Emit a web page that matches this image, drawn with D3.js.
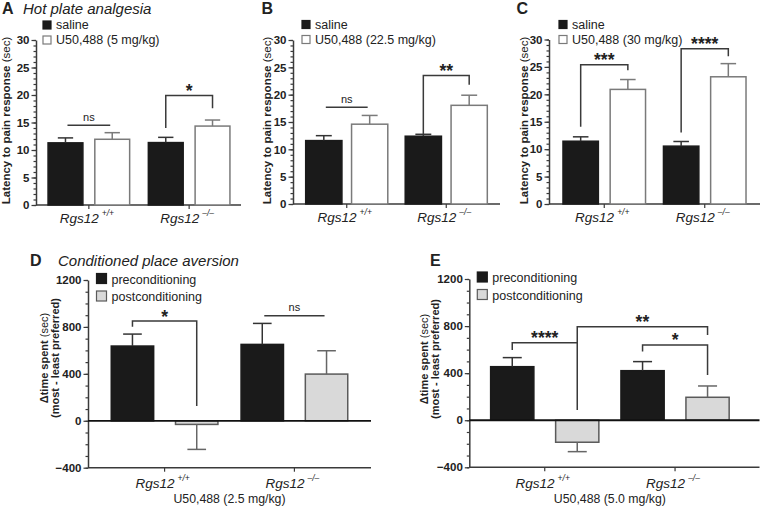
<!DOCTYPE html>
<html><head><meta charset="utf-8">
<script src="https://cdn.jsdelivr.net/npm/d3@7"></script>
<style>
body{margin:0;background:#fff}
svg{font-family:"Liberation Sans",Arial,Helvetica,sans-serif}
.tk text{font-weight:bold;font-size:11.5px;font-family:"Liberation Sans",Arial,Helvetica,sans-serif;fill:#222}
</style></head><body>
<svg id="c" width="760" height="506"></svg>
<script>
// ---------------- data ----------------
const genotypes = ["+/+", "\u2013/\u2013"];
const hpSeries = ["saline", "U50,488"];
const hpDoses = ["5 mg/kg", "22.5 mg/kg", "30 mg/kg"];
const hpTicks = [0, 5, 10, 15, 20, 25, 30];
const cpaSeries = ["preconditioning", "postconditioning"];
const cpaDoses = ["2.5 mg/kg", "5.0 mg/kg"];
const cpaTicks = [-400, 0, 400, 800, 1200];

// Hot plate (sec): mean and SEM per genotype [+/+, -/-]
const hpA_saline = [11.3, 11.35], hpA_salineSem = [0.9, 0.95];
const hpA_u50 = [11.95, 14.35], hpA_u50Sem = [1.2, 1.1];
const hpB_saline = [11.6, 12.4], hpB_salineSem = [0.9, 0.35];
const hpB_u50 = [14.6, 18.05], hpB_u50Sem = [1.6, 1.85];
const hpC_saline = [11.45, 10.55], hpC_salineSem = [0.8, 0.85];
const hpC_u50 = [20.9, 23.2], hpC_u50Sem = [1.8, 2.4];

// Conditioned place aversion (sec): mean and SEM per genotype
const cpaD_pre = [637, 651], cpaD_preSem = [102, 179];
const cpaD_post = [-31, 398], cpaD_postSem = [213, 199];
const cpaE_pre = [455, 421], cpaE_preSem = [77, 77];
const cpaE_post = [-187, 195], cpaE_postSem = [80, 96];

// Significance annotations: [group, series] pairs, levels in data units
const sigA = [
  {kind: "line", a: [0, 0], b: [0, 1], top: 14.5, label: "ns"},
  {kind: "bracket", a: [1, 0], b: [1, 1], top: 19.9, aEnd: 14.0, bEnd: 17.6, label: "*"}
];
const sigB = [
  {kind: "line", a: [0, 0], b: [0, 1], top: 17.7, label: "ns"},
  {kind: "bracket", a: [1, 0], b: [1, 1], top: 23.5, aEnd: 12.8, bEnd: 21.8, label: "**"}
];
const sigC = [
  {kind: "bracket", a: [0, 0], b: [0, 1], top: 25.4, aEnd: 14.1, bEnd: 24.4, label: "***"},
  {kind: "bracket", a: [1, 0], b: [1, 1], top: 28.3, aEnd: 13.05, bEnd: 26.95, label: "****"}
];
const sigD = [
  {kind: "bracket", a: [0, 0], b: [0, 1], top: 850, aEnd: 802, bEnd: 125, label: "*"},
  {kind: "line", a: [1, 0], b: [1, 1], top: 895, label: "ns"}
];
const sigE = [
  {kind: "bracket", a: [0, 0], b: [0, 1], top: 659, aEnd: 597, bEnd: 87, label: "****"},
  {kind: "bracket", a: [0, 1], b: [1, 1], top: 795, aEnd: 659, bEnd: 725, label: "**"},
  {kind: "bracket", a: [1, 0], b: [1, 1], top: 640, aEnd: 583, bEnd: 385, label: "*"}
];

// ---------------- drawing ----------------
const svg = d3.select("#c");
const FONT = '"Liberation Sans",Arial,Helvetica,sans-serif';
const AX = "#3a3a3a", TXT = "#222";

function panel(p) {
  const g = svg.append("g");
  const y = d3.scaleLinear().domain(p.yDomain).range(p.yRange);
  const x0 = d3.scaleBand().domain(genotypes).range(p.band).paddingInner(0).paddingOuter(p.po0);
  const x1 = d3.scaleBand().domain([0, 1]).range([0, x0.bandwidth()]).paddingInner(p.pi1).paddingOuter(p.po1);
  const bw = x1.bandwidth();
  const cx = (gi, si) => x0(genotypes[gi]) + x1(si) + bw / 2;
  const base = p.yDomain[0];

  // y axis
  const ym = g.append("g").attr("transform", `translate(${p.axisL},0)`);
  ym.call(d3.axisLeft(y).tickValues(p.minor).tickSize(2.5).tickSizeOuter(0).tickFormat(""));
  ym.select(".domain").remove();
  const ya = g.append("g").attr("class", "tk").attr("transform", `translate(${p.axisL},0)`);
  ya.call(d3.axisLeft(y).tickValues(p.ticks).tickSize(4.5).tickSizeOuter(0).tickPadding(2).tickFormat(d3.format("d")));
  ya.attr("font-family", null).attr("font-size", null);
  g.selectAll("path.domain").attr("stroke", AX).attr("stroke-width", 1.5);
  g.selectAll(".tick line").attr("stroke", AX).attr("stroke-width", 1.2);

  // x axis ticks
  const xa = g.append("g").attr("transform", `translate(0,${y(base)})`);
  xa.call(d3.axisBottom(x0).tickSize(4).tickSizeOuter(0).tickFormat(""));
  xa.select(".domain").remove();
  xa.selectAll(".tick line").attr("stroke", AX).attr("stroke-width", 1.2);
  g.append("line").attr("x1", p.axisL).attr("x2", p.axisR)
    .attr("y1", y(base)).attr("y2", y(base)).attr("stroke", AX).attr("stroke-width", 1.5);

  // bars
  const vals = [p.s0, p.s1], sems = [p.e0, p.e1];
  for (let gi = 0; gi < 2; gi++) {
    for (let si = 0; si < 2; si++) {
      const v = vals[si][gi], e = sems[si][gi];
      const xl = x0(genotypes[gi]) + x1(si);
      g.append("rect").attr("x", xl).attr("width", bw)
        .attr("y", Math.min(y(v), y(0))).attr("height", Math.abs(y(v) - y(0)))
        .attr("fill", p.fill[si]).attr("stroke", p.stroke[si]).attr("stroke-width", 1.5);
      const end = v >= 0 ? v + e : v - e;
      const c = xl + bw / 2, cap = bw * 0.22;
      g.append("line").attr("x1", c).attr("x2", c).attr("y1", y(v)).attr("y2", y(end))
        .attr("stroke", p.err[si]).attr("stroke-width", 1.5);
      g.append("line").attr("x1", c - cap).attr("x2", c + cap).attr("y1", y(end)).attr("y2", y(end))
        .attr("stroke", p.err[si]).attr("stroke-width", 1.5);
    }
  }
  if (p.zeroLine) {
    g.append("line").attr("x1", p.axisL).attr("x2", p.axisR)
      .attr("y1", y(0)).attr("y2", y(0)).attr("stroke", "#111").attr("stroke-width", 1.8);
  }

  // x labels
  genotypes.forEach((gt, gi) => {
    const t = g.append("text").attr("x", x0(gt) + x0.bandwidth() / 2 - 2).attr("y", y(base) + p.xlabDy)
      .attr("text-anchor", "middle").attr("font-family", FONT).attr("fill", TXT);
    t.append("tspan").attr("font-style", "italic").attr("font-size", 13.5).text("Rgs12");
    t.append("tspan").attr("font-style", "italic").attr("font-size", 8.5).attr("dx", 3).attr("dy", -7).text(gt);
  });
  if (p.xTitle) {
    g.append("text").attr("x", (p.band[0] + p.band[1]) / 2).attr("y", y(base) + p.xTitleDy)
      .attr("text-anchor", "middle").attr("font-family", FONT).attr("font-size", 12.3)
      .attr("fill", TXT).text(p.xTitle);
  }

  // y label
  const yl = g.append("g").attr("transform", `translate(${p.ylab[0]},${p.ylab[1]}) rotate(-90)`);
  p.ylabLines.forEach((ln, i) => {
    const t = yl.append("text").attr("x", 0).attr("y", i * p.ylabGap).attr("text-anchor", "middle")
      .attr("font-family", FONT).attr("font-size", p.ylabSize).attr("fill", TXT);
    ln.forEach(([s, bold]) => t.append("tspan").attr("font-weight", bold ? "bold" : "normal").text(s));
  });

  // legend
  p.legend.forEach((lab, si) => {
    const ly = p.leg[1] + si * p.legGap;
    g.append("rect").attr("x", p.leg[0]).attr("y", ly).attr("width", p.legSq).attr("height", p.legSq)
      .attr("fill", p.fill[si]).attr("stroke", p.stroke[si]).attr("stroke-width", 1.2);
    g.append("text").attr("x", p.leg[0] + p.legSq + 5).attr("y", ly + p.legSq).attr("font-family", FONT)
      .attr("font-size", 12.5).attr("fill", TXT).text(lab);
  });

  // title
  const tt = g.append("text").attr("x", p.title[0]).attr("y", p.title[1]).attr("font-family", FONT).attr("fill", TXT);
  tt.append("tspan").attr("font-weight", "bold").attr("font-size", 16).text(p.letter);
  if (p.titleText) tt.append("tspan").attr("x", p.title[0] + p.titleGap).attr("font-style", "italic").attr("font-size", 15).text(p.titleText);

  // significance
  p.sig.forEach(s => {
    const xa_ = cx(s.a[0], s.a[1]), xb = cx(s.b[0], s.b[1]);
    if (s.kind === "line") {
      g.append("line").attr("x1", xa_ + 2).attr("x2", xb - 2).attr("y1", y(s.top)).attr("y2", y(s.top))
        .attr("stroke", AX).attr("stroke-width", 1.5);
      g.append("text").attr("x", (xa_ + xb) / 2).attr("y", y(s.top) - 4.5).attr("text-anchor", "middle")
        .attr("font-family", FONT).attr("font-size", 11).attr("fill", TXT).text(s.label);
    } else {
      g.append("path").attr("d", `M${xa_},${y(s.aEnd)}V${y(s.top)}H${xb}V${y(s.bEnd)}`)
        .attr("fill", "none").attr("stroke", AX).attr("stroke-width", 1.5);
      g.append("text").attr("x", (xa_ + xb) / 2).attr("y", y(s.top) + 1.5).attr("text-anchor", "middle")
        .attr("font-family", FONT).attr("font-size", 17.5).attr("font-weight", "bold").attr("fill", TXT).text(s.label);
    }
  });
}

const hpCommon = {
  yDomain: [0, 30], ticks: hpTicks, minor: d3.range(0, 31, 1),
  fill: ["#1a1a1a", "#ffffff"], stroke: ["#1a1a1a", "#7a7a7a"], err: ["#333", "#7a7a7a"],
  xlabDy: 18, ylabSize: 11.5, ylabGap: 0, legGap: 15, legSq: 8,
  ylabLines: [[["Latency to pain response ", true], ["(sec)", false]]]
};
const cpaCommon = {
  yDomain: [-400, 1200], ticks: cpaTicks, minor: d3.range(-400, 1201, 100), zeroLine: true,
  fill: ["#1a1a1a", "#d9d9d9"], stroke: ["#1a1a1a", "#5a5a5a"], err: ["#333", "#666"],
  xlabDy: 20.5, xTitleDy: 35.5, ylabSize: 11, ylabGap: 11, legGap: 17.5, legSq: 10,
  ylabLines: [[["\u0394time spent ", true], ["(sec)", false]], [["(most - least preferred)", true]]],
  legend: cpaSeries, po0: 0.09
};

panel(Object.assign({}, hpCommon, {
  s0: hpA_saline, e0: hpA_salineSem, s1: hpA_u50, e1: hpA_u50Sem,
  yRange: [205, 40], band: [36, 242], po0: 0.027, pi1: 0.255, po1: 0.2, axisL: 36, axisR: 241,
  ylab: [10, 120.5], leg: [43, 21], title: [2, 13.5], letter: "A", titleText: "Hot plate analgesia", titleGap: 21,
  legend: [hpSeries[0], hpSeries[1] + " (" + hpDoses[0] + ")"], sig: sigA
}));
panel(Object.assign({}, hpCommon, {
  s0: hpB_saline, e0: hpB_salineSem, s1: hpB_u50, e1: hpB_u50Sem,
  yRange: [204, 40], band: [293, 500], po0: 0.04, pi1: 0.21, po1: 0.19, axisL: 293, axisR: 500,
  ylab: [271, 120.5], leg: [302, 20.5], title: [261.5, 13.5], letter: "B",
  legend: [hpSeries[0], hpSeries[1] + " (" + hpDoses[1] + ")"], sig: sigB
}));
panel(Object.assign({}, hpCommon, {
  s0: hpC_saline, e0: hpC_salineSem, s1: hpC_u50, e1: hpC_u50Sem,
  yRange: [204, 39.5], band: [549, 760], po0: 0.05, pi1: 0.25, po1: 0.19, axisL: 549, axisR: 760,
  ylab: [528, 120.5], leg: [559, 20.5], title: [516.5, 13.5], letter: "C",
  legend: [hpSeries[0], hpSeries[1] + " (" + hpDoses[2] + ")"], sig: sigC
}));
panel(Object.assign({}, cpaCommon, {
  s0: cpaD_pre, e0: cpaD_preSem, s1: cpaD_post, e1: cpaD_postSem,
  yRange: [467.7, 280], band: [88, 371], pi1: 0.34, po1: 0.18, axisL: 88, axisR: 371,
  ylab: [48, 358], leg: [96.5, 273.5], title: [30, 265.5], letter: "D", titleText: "Conditioned place aversion", titleGap: 28,
  xTitle: "U50,488 (" + cpaDoses[0] + ")", sig: sigD
}));
panel(Object.assign({}, cpaCommon, {
  s0: cpaE_pre, e0: cpaE_preSem, s1: cpaE_post, e1: cpaE_postSem,
  yRange: [467.3, 279], band: [469.3, 750.5], po0: 0.079, pi1: 0.335, po1: 0.17, axisL: 469.3, axisR: 759.5,
  ylab: [427.5, 359], leg: [477.3, 272], title: [430, 265.5], letter: "E",
  xTitle: "U50,488 (" + cpaDoses[1] + ")", sig: sigE
}));
</script>
</body></html>
